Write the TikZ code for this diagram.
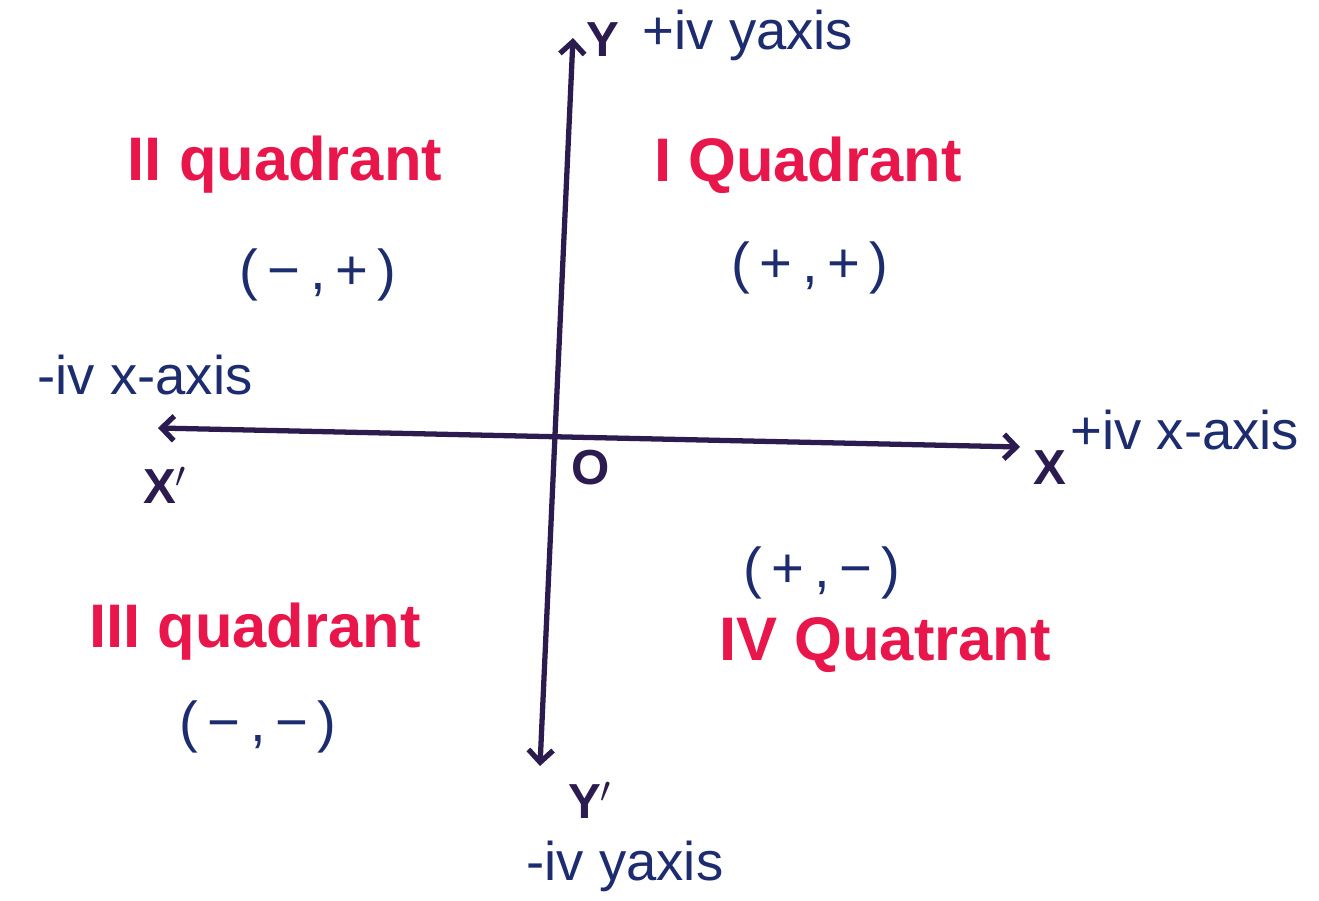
\documentclass[tikz,border=0pt]{standalone}
\usepackage{fontspec}
\setmainfont{Liberation Sans}
\usetikzlibrary{arrows.meta}
\definecolor{inkred}{HTML}{E8164A}
\definecolor{inkblue}{HTML}{1C2C6E}
\definecolor{axisink}{HTML}{2B1B4F}
\begin{document}
\begin{tikzpicture}[x=0.02cm,y=-0.02cm,
  quad/.style={text=inkred,font=\fontsize{35}{37}\selectfont\bfseries},
  sign/.style={text=inkblue,font=\fontsize{32}{34}\selectfont},
  lab/.style={text=inkblue,font=\fontsize{31}{33}\selectfont},
  pt/.style={text=axisink,font=\fontsize{28}{30}\selectfont\bfseries},
  axis/.style={draw=axisink,line width=3pt,line cap=round,
    {Straight Barb[length=7pt,width=14pt]}-{Straight Barb[length=7pt,width=14pt]}}]
\useasboundingbox (0,0) rectangle (1319,901);
\fill[white] (0,0) rectangle (1319,901);
% axes
\coordinate (ytop) at (573,38);
\coordinate (ybot) at (540,766);
\coordinate (xl) at (158,428);
\coordinate (xr) at (1020,447);
\draw[axis] (ybot) -- (ytop);
\draw[axis] (xl) -- (xr);
% axis labels
\node[pt] (Y) at (603,40) {Y};
\node[lab] (ypos) at (748,35) {+iv yaxis};
\node[lab] (xneg) at (145,375) {-iv x-axis};
\node[lab] (xpos) at (1185,430) {+iv x-axis};
\node[pt] (Xp) at (165,485) {X$'$};
\node[pt] (O) at (591,468) {O};
\node[pt] (X) at (1050,468) {X};
\node[pt] (Yp) at (590,800) {Y$'$};
\node[lab] (yneg) at (625,866) {-iv yaxis};
% quadrants
\node[quad] (q2) at (285,165) {II quadrant};
\node[sign] (s2) at (318,275) {(\,−\,,\,+\,)};
\node[quad] (q1) at (808,165) {I Quadrant};
\node[sign] (s1) at (810,268) {(\,+\,,\,+\,)};
\node[sign] (s4) at (822,573) {(\,+\,,\,−\,)};
\node[quad] (q4) at (885,645) {IV Quatrant};
\node[quad] (q3) at (255,632) {III quadrant};
\node[sign] (s3) at (258,727) {(\,−\,,\,−\,)};
\end{tikzpicture}
\end{document}
